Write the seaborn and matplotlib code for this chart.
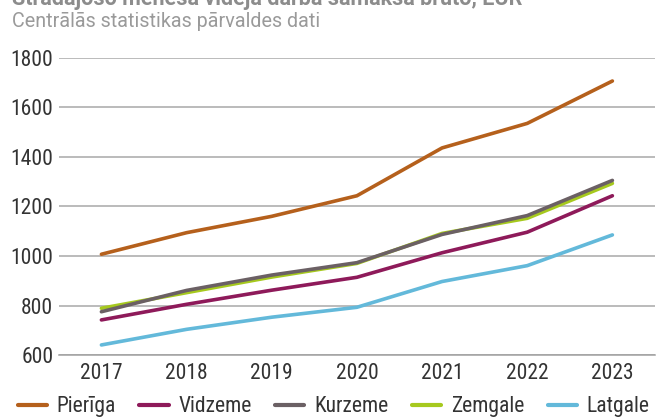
import numpy as np
import pandas as pd
import matplotlib
matplotlib.use("Agg")
import matplotlib.pyplot as plt
import seaborn as sns

# average monthly gross wage by region, EUR
years = ["2017", "2018", "2019", "2020", "2021", "2022", "2023"]
regions = ["Pierīga", "Vidzeme", "Kurzeme", "Zemgale", "Latgale"]
pieriga = [1007, 1094, 1160, 1243, 1436, 1535, 1706]
vidzeme = [742, 805, 862, 914, 1013, 1096, 1243]
kurzeme = [775, 861, 923, 973, 1087, 1163, 1305]
zemgale = [789, 852, 915, 970, 1091, 1152, 1293]
latgale = [641, 704, 753, 793, 897, 961, 1085]
colors = ["#b5601c", "#8e1a5a", "#6b6064", "#a6c91e", "#63b9da"]

title = "Strādājošo mēneša vidējā darba samaksa bruto, EUR"
subtitle = "Centrālās statistikas pārvaldes dati"

rows = []
for name, vals in zip(regions, [pieriga, vidzeme, kurzeme, zemgale, latgale]):
    for i, v in enumerate(vals):
        rows.append({"x": i, "year": years[i], "region": name, "value": v})
df = pd.DataFrame(rows)

sns.set_style("white")
narrow = ["Liberation Sans Narrow", "Roboto Condensed", "Roboto", "DejaVu Sans"]
plt.rcParams["font.family"] = narrow

fig = plt.figure(figsize=(6.58, 4.17), dpi=100)
ax = fig.add_axes([0.0894, 0.1484, 0.906, 0.7132])

sns.lineplot(data=df, x="x", y="value", hue="region", hue_order=regions,
             palette=colors, linewidth=2.6, ax=ax, legend=False,
             solid_capstyle="round")
# grey Kurzeme line sits on top of the green one
ax.lines[2].set_zorder(5)

ax.set_xlim(-0.5, 6.5)
ax.set_ylim(600, 1800)
ax.set_yticks(range(600, 1801, 200))
ax.set_xticks(range(len(years)))
ax.set_xticklabels(years)
ax.set_xticks(np.arange(-0.5, 7, 1), minor=True)
ax.tick_params(axis="x", which="major", length=0, pad=6, labelsize=15.5, labelcolor="#333333")
ax.tick_params(axis="x", which="minor", length=6, width=1, color="#a0a0a0")
ax.tick_params(axis="y", length=0, pad=4, labelsize=15.5, labelcolor="#333333")
ax.set_xlabel("")
ax.set_ylabel("")
ax.yaxis.grid(True, color="#a8a8a8", linewidth=1.1)
ax.set_axisbelow(True)
for s in ["top", "right", "left"]:
    ax.spines[s].set_visible(False)
ax.spines["bottom"].set_color("#a0a0a0")
ax.spines["bottom"].set_linewidth(1.1)

handles = [plt.Line2D([], [], color=c, linewidth=3, solid_capstyle="round") for c in colors]
fig.legend(handles, regions, loc="center", bbox_to_anchor=(0.507, 0.025), ncol=5,
           frameon=False, fontsize=15.5, handlelength=1.35, handletextpad=0.45,
           columnspacing=1.1, labelcolor="#333333")

fig.text(0.018, 1 - 5 / 417, title, fontsize=15.5, fontweight="bold", color="#8c8c8c",
         family=["Roboto", "DejaVu Sans"], va="baseline")
fig.text(0.018, 1 - 27 / 417, subtitle, fontsize=14.2, color="#9a9a9a",
         family=["Roboto", "DejaVu Sans"], va="baseline")

fig.savefig("out.png", dpi=100)
